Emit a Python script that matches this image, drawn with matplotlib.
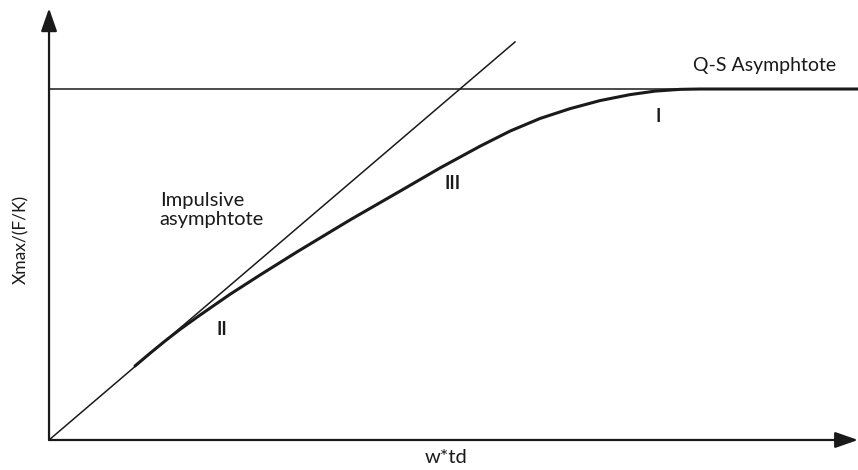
import matplotlib
matplotlib.use("Agg")
import matplotlib.pyplot as plt

# Normalised response curve: w*td on x, Xmax/(F/K) on y (quasi-static level = 1)
curve_x = [1.063, 1.248, 1.434, 1.619, 1.867, 2.237, 2.608, 3.066, 3.721, 4.339,
           4.833, 5.328, 5.698, 6.069, 6.440, 6.811, 7.182, 7.491, 7.800, 8.047, 10.0]
curve_y = [0.211, 0.247, 0.282, 0.315, 0.356, 0.415, 0.470, 0.536, 0.627, 0.709,
           0.775, 0.837, 0.880, 0.916, 0.944, 0.967, 0.984, 0.994, 0.999, 1.0, 1.0]

# Asymptotes
impulsive_x = [0.0, 5.76]
impulsive_y = [0.0, 1.134]
qs_level = 1.0

region_labels = ["I", "II", "III"]
region_pos = [(7.53, 0.923), (2.14, 0.316), (4.99, 0.732)]

fig = plt.figure(figsize=(8.58, 4.70), dpi=100)
ax = fig.add_axes([0, 0, 1, 1])
ax.set_xlim(-0.606, 10.0)
ax.set_ylim(-0.0855, 1.2536)
ax.axis("off")

ink = "#1a1a1a"

# Coordinate axes with arrow heads
arrow = dict(arrowstyle="-|>,head_length=1.0,head_width=0.35",
             lw=1.6, color=ink, mutation_scale=14, shrinkA=0, shrinkB=0)
ax.annotate("", xy=(0, 1.230), xytext=(0, 0), arrowprops=arrow,
            annotation_clip=False)
ax.annotate("", xy=(10.0, 0), xytext=(0, 0), arrowprops=arrow,
            annotation_clip=False)

# Quasi-static asymptote
ax.plot([0, 10.0], [qs_level, qs_level], color=ink, lw=1.1, solid_capstyle="butt")
# Impulsive asymptote
ax.plot(impulsive_x, impulsive_y, color=ink, lw=1.1)
# Response curve
ax.plot(curve_x, curve_y, color=ink, lw=2.2, solid_capstyle="round",
        solid_joinstyle="round")

font = "Lato"
ax.text(8.84, 1.066, "Q-S Asymphtote", fontsize=14, family=font, color=ink,
        ha="center", va="center")
ax.text(1.37, 0.655, "Impulsive\nasymphtote", fontsize=14.5, family=font, color=ink,
        ha="left", va="center", linespacing=1.1)
for lab, (lx, ly) in zip(region_labels, region_pos):
    ax.text(lx, ly, lab, fontsize=13, family=font, fontweight="bold", color=ink,
            ha="center", va="center")

ax.text(4.91, -0.049, "w*td", fontsize=14.5, family=font, color=ink,
        ha="center", va="center")
ax.text(-0.35, 0.57, "Xmax/(F/K)", fontsize=12.5, family=font, color=ink,
        ha="center", va="center", rotation=90)

fig.savefig("out.png", dpi=100)
